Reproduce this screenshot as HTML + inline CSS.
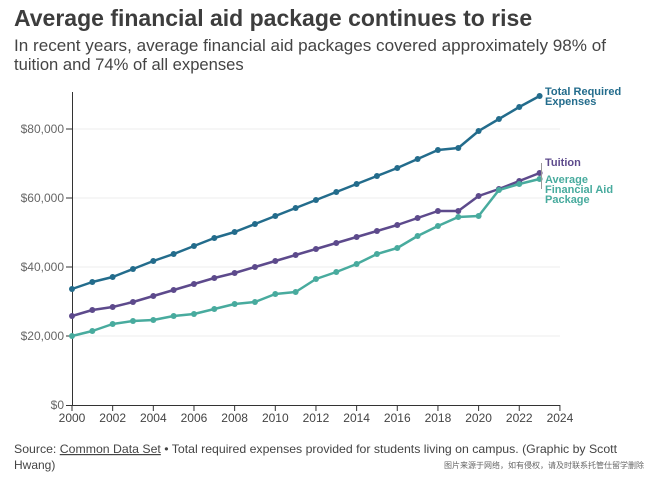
<!DOCTYPE html><html><head><style>
body{margin:0;background:#fff;width:648px;height:476px;overflow:hidden;font-family:"Liberation Sans",sans-serif}
</style></head><body>
<svg width="648" height="476" xmlns="http://www.w3.org/2000/svg" font-family="Liberation Sans, sans-serif">
<text x="14" y="26" font-size="23" font-weight="bold" fill="#3d3d3d">Average financial aid package continues to rise</text>
<text x="14" y="51" font-size="16.6" fill="#444" textLength="592" lengthAdjust="spacingAndGlyphs">In recent years, average financial aid packages covered approximately 98% of</text>
<text x="14" y="70" font-size="16.6" fill="#444">tuition and 74% of all expenses</text>
<g stroke="#ececec" stroke-width="1">
<line x1="72" x2="560" y1="129" y2="129"/><line x1="72" x2="560" y1="198" y2="198"/><line x1="72" x2="560" y1="267" y2="267"/><line x1="72" x2="560" y1="336" y2="336"/></g>
<g stroke="#333" stroke-width="1"><line x1="72.5" y1="92" x2="72.5" y2="405"/><line x1="66" y1="405.5" x2="560" y2="405.5"/>
<line x1="66" x2="72" y1="129" y2="129"/><line x1="66" x2="72" y1="198" y2="198"/><line x1="66" x2="72" y1="267" y2="267"/><line x1="66" x2="72" y1="336" y2="336"/>
<g id="t"></g></g>
<g font-size="12" fill="#666" text-anchor="end">
<text x="64" y="133">$80,000</text><text x="64" y="202">$60,000</text><text x="64" y="271">$40,000</text><text x="64" y="340">$20,000</text><text x="64" y="409">$0</text></g>
<g font-size="12" fill="#444" text-anchor="middle" id="xl"></g>
<g fill="none" stroke-width="2.5" stroke-linejoin="round">
<polyline id="p1" stroke="#236c8c"/><polyline id="p2" stroke="#5d4a8c"/><polyline id="p3" stroke="#48ab9e"/></g>
<g id="dots"></g>
<g font-size="11" font-weight="bold">
<text x="545" y="95" fill="#236c8c">Total Required</text><text x="545" y="105" fill="#236c8c">Expenses</text>
<text x="545" y="166" fill="#5d4a8c">Tuition</text>
<text x="545" y="183" fill="#48ab9e">Average</text><text x="545" y="193" fill="#48ab9e">Financial Aid</text><text x="545" y="203" fill="#48ab9e">Package</text></g>
<line x1="541.5" y1="163" x2="541.5" y2="189" stroke="#999"/>
<text x="14" y="453" font-size="12" fill="#444" textLength="603" lengthAdjust="spacingAndGlyphs">Source: <tspan text-decoration="underline">Common Data Set</tspan> • Total required expenses provided for students living on campus. (Graphic by Scott</text>
<text x="14" y="469" font-size="12" fill="#444">Hwang)</text>
<text x="644" y="468" font-size="8" fill="#666" text-anchor="end">图片来源于网络，如有侵权，请及时联系托管仕留学删除</text>
</svg>
<script>
const X=y=>72+(y-2000)*20.33;
const d1=[289,282,277,269,261,254,246,238,232,224,216,208,200,192,184,176,168,159,150,148,131,119,107,96];
const d2=[316,310,307,302,296,290,284,278,273,267,261,255,249,243,237,231,225,218,211,211,196,189,181,173];
const d3=[336,331,324,321,320,316,314,309,304,302,294,292,279,272,264,254,248,236,226,217,216,190,184,179];
const ns="http://www.w3.org/2000/svg",dots=document.getElementById('dots');
[[d1,'p1','#236c8c'],[d2,'p2','#5d4a8c'],[d3,'p3','#48ab9e']].forEach(([d,id,c])=>{
document.getElementById(id).setAttribute('points',d.map((v,i)=>X(2000+i)+','+v).join(' '));
d.forEach((v,i)=>{const e=document.createElementNS(ns,'circle');e.setAttribute('cx',X(2000+i));e.setAttribute('cy',v);e.setAttribute('r',3);e.setAttribute('fill',c);dots.appendChild(e);});});
const t=document.getElementById('t'),xl=document.getElementById('xl');
for(let y=2000;y<=2024;y+=2){const l=document.createElementNS(ns,'line');l.setAttribute('x1',X(y));l.setAttribute('x2',X(y));l.setAttribute('y1',405);l.setAttribute('y2',411);t.appendChild(l);
const s=document.createElementNS(ns,'text');s.setAttribute('x',X(y));s.setAttribute('y',422);s.textContent=y;xl.appendChild(s);}
</script>
</body></html>
